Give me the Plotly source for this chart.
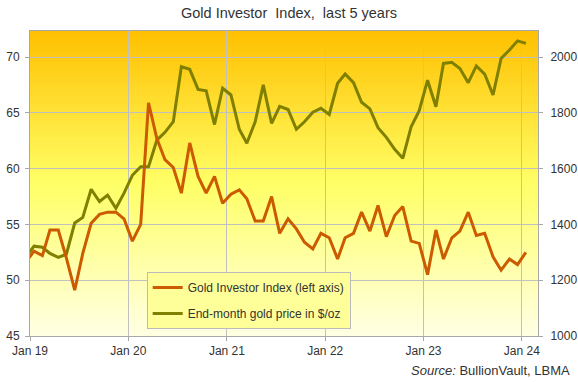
import pandas as pd
import plotly.graph_objects as go

# Monthly data, Dec 2018 .. Jan 2024 (plotted mid-month)
months = pd.date_range("2018-12-01", periods=62, freq="MS") + pd.Timedelta(days=15)

investor_index = [
    51.6,
    52.6, 52.2, 54.5, 54.5, 52.0, 49.1, 52.4, 55.1, 55.9, 56.1, 56.1, 55.5,
    53.5, 55.0, 65.9, 62.7, 60.8, 60.1, 57.8, 62.3, 59.3, 57.8, 59.3, 56.9,
    57.7, 58.1, 57.3, 55.3, 55.3, 57.5, 54.2, 55.5, 54.6, 53.4, 52.8, 54.2,
    53.8, 51.9, 53.8, 54.2, 56.1, 54.4, 56.7, 53.9, 55.8, 56.6, 53.5, 53.3,
    50.5, 54.5, 51.9, 53.8, 54.4, 56.1, 54.0, 54.2, 52.1, 50.9, 51.9, 51.4,
    52.5,
]

gold_price = [
    1282,
    1322, 1318, 1296, 1282, 1293, 1405, 1425, 1526, 1482, 1505, 1458, 1512,
    1576, 1607, 1607, 1702, 1730, 1768, 1965, 1956, 1884, 1879, 1758, 1888,
    1864, 1741, 1691, 1768, 1900, 1762, 1823, 1812, 1741, 1768, 1802, 1816,
    1794, 1906, 1939, 1908, 1838, 1814, 1747, 1712, 1669, 1637, 1750, 1808,
    1917, 1822, 1977, 1981, 1959, 1908, 1968, 1939, 1864, 1995, 2025, 2058,
    2049,
]

tick_dates = ["2019-01-01", "2020-01-01", "2021-01-01", "2022-01-01", "2023-01-01", "2024-01-01"]
tick_labels = ["Jan 19", "Jan 20", "Jan 21", "Jan 22", "Jan 23", "Jan 24"]
left_ticks = [45, 50, 55, 60, 65, 70]
right_ticks = [1000, 1200, 1400, 1600, 1800, 2000]

ORANGE = "#CC5A00"
OLIVE = "#7F7F00"
GRID = "#C0C0C0"
AXIS = "#A8A8A8"
TXT = "#333333"
FONT = "Liberation Sans, Arial, sans-serif"

fig = go.Figure()

# investor index on the left axis (y2 overlay, drawn on top)
fig.add_trace(go.Scatter(
    x=months, y=investor_index, mode="lines", yaxis="y2",
    name="Gold Investor Index (left axis)", legendgroup="a",
    line=dict(color=ORANGE, width=3),
))
# gold price on the right axis (y)
fig.add_trace(go.Scatter(
    x=months, y=gold_price, mode="lines", yaxis="y",
    name="End-month gold price in $/oz", legendgroup="b",
    line=dict(color=OLIVE, width=3),
))

# vertical gradient background
def lerp(a, b, t):
    return tuple(int(round(a[i] + (b[i] - a[i]) * t)) for i in range(3))

stops = [(0.0, (255, 255, 228)), (0.5, (255, 255, 102)), (1.0, (255, 192, 0))]
shapes = []
N = 80
for i in range(N):
    t = (i + 0.5) / N
    for j in range(len(stops) - 1):
        if stops[j][0] <= t <= stops[j + 1][0]:
            tt = (t - stops[j][0]) / (stops[j + 1][0] - stops[j][0])
            c = lerp(stops[j][1], stops[j + 1][1], tt)
            break
    shapes.append(dict(
        type="rect", xref="paper", yref="paper",
        x0=0, x1=1, y0=i / N, y1=min(1, (i + 1.3) / N),
        fillcolor="rgb(%d,%d,%d)" % c, line=dict(width=0), layer="below",
    ))

fig.update_layout(
    width=578, height=382,
    margin=dict(l=30, r=40, t=31, b=46, autoexpand=False),
    paper_bgcolor="white",
    plot_bgcolor="rgba(0,0,0,0)",
    shapes=shapes,
    font=dict(family=FONT, size=12, color=TXT),
    title=dict(
        text="Gold Investor  Index,  last 5 years",
        x=0.5, xanchor="center", y=0.965, yanchor="middle",
        font=dict(family=FONT, size=14.5, color=TXT),
    ),
    xaxis=dict(
        type="date", range=["2019-01-01", "2024-03-01"],
        tickvals=tick_dates, ticktext=tick_labels,
        showgrid=True, gridcolor=GRID, gridwidth=1,
        showline=True, linecolor=AXIS, linewidth=1, mirror=True,
        ticks="outside", ticklen=4, tickcolor=AXIS, automargin=False,
        tickfont=dict(size=12, color=TXT), zeroline=False,
    ),
    yaxis=dict(
        side="right", range=[1000, 2093.3],
        tickvals=right_ticks,
        showgrid=True, gridcolor=GRID, gridwidth=1,
        showline=True, linecolor=AXIS, linewidth=1,
        ticks="outside", ticklen=4, tickcolor=AXIS, ticklabelstandoff=5,
        automargin=False,
        tickfont=dict(size=12, color=TXT), zeroline=False,
    ),
    yaxis2=dict(
        side="left", overlaying="y", range=[45, 72.33],
        tickvals=left_ticks,
        showgrid=False,
        showline=True, linecolor=AXIS, linewidth=1,
        ticks="outside", ticklen=4, tickcolor=AXIS, ticklabelstandoff=3,
        automargin=False,
        tickfont=dict(size=12, color=TXT), zeroline=False,
    ),
    legend=dict(
        x=0.2297, y=0.21, xanchor="left", yanchor="top",
        bgcolor="rgb(255,255,153)", bordercolor="#BBBBBB", borderwidth=1,
        font=dict(size=12, color=TXT), itemwidth=30, tracegroupgap=7,
        traceorder="grouped",
    ),
    showlegend=True,
    annotations=[dict(
        text="<i>Source:</i> BullionVault, LBMA",
        xref="paper", yref="paper", x=(572 - 30) / 508, y=(336 - 371) / 305,
        xanchor="right", yanchor="middle", showarrow=False,
        font=dict(size=13, color=TXT),
    )],
)

fig.write_html("out.html", config={"displayModeBar": False})

# remove the browser's default page margin so the figure sits at the top-left corner
with open("out.html", "r", encoding="utf-8") as f:
    html = f.read()
html = html.replace("<head>", "<head><style>html,body{margin:0;padding:0;overflow:hidden;}</style>", 1)
with open("out.html", "w", encoding="utf-8") as f:
    f.write(html)
